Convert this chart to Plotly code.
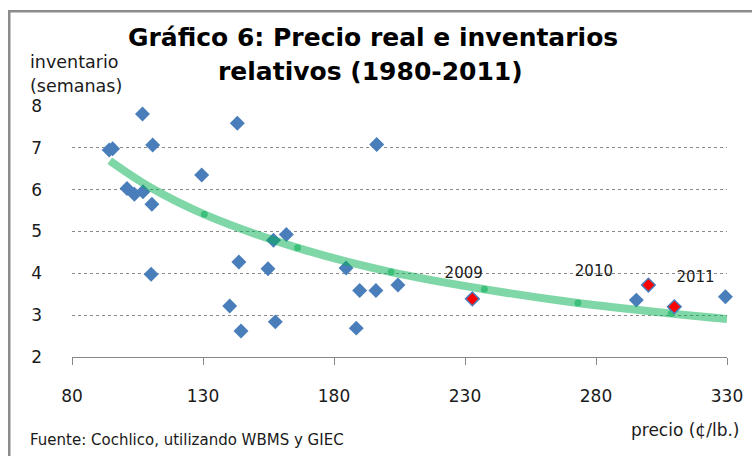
import plotly.graph_objects as go

# ---- data ----
blue_price = [94.2, 95.5, 106.9, 110.8, 129.5, 143.1, 101.0, 103.8, 107.1, 110.5, 110.2,
              143.7, 140.2, 144.5, 154.8, 157.6, 156.9, 161.8, 196.3, 184.6, 189.8, 188.5,
              196.0, 204.4, 295.4, 329.4]
blue_inv = [6.95, 6.98, 7.81, 7.07, 6.35, 7.59, 6.03, 5.89, 5.95, 5.65, 3.98,
            4.27, 3.22, 2.62, 4.11, 2.84, 4.79, 4.93, 7.08, 4.13, 3.59, 2.69,
            3.59, 3.72, 3.36, 3.44]

red_price = [232.8, 300.0, 309.9]
red_inv = [3.39, 3.72, 3.20]

year_labels = ["2009", "2010", "2011"]
label_price = [229.5, 279.2, 318.0]
label_inv = [3.98, 4.03, 3.89]

trend_price = [94.4, 110.0, 130.5, 166.1, 201.8, 237.4, 273.1, 308.7, 330.0]
trend_inv = [6.69, 6.05, 5.41, 4.61, 4.03, 3.62, 3.29, 3.04, 2.91]

dot_price = [130.5, 166.1, 201.8, 237.4, 273.1, 308.7]
dot_inv = [5.41, 4.61, 4.03, 3.62, 3.29, 3.04]

x_ticks = [80, 130, 180, 230, 280, 330]
y_ticks = [2, 3, 4, 5, 6, 7, 8]

FONT = "DejaVu Sans"
W, H = 752, 456
ML, MR, MT, MB = 72, 25, 106, 99
PW, PH = W - ML - MR, H - MT - MB


def px(x):
    return (x - ML) / PW


def py(y):
    return (H - MB - y) / PH


fig = go.Figure()
fig.add_trace(go.Scatter(x=blue_price, y=blue_inv, mode="markers",
                         marker=dict(symbol="diamond", size=11.5, color="#4a7ebb",
                                     line=dict(width=0)),
                         cliponaxis=False, showlegend=False))
fig.add_trace(go.Scatter(x=trend_price, y=trend_inv, mode="lines",
                         line=dict(color="rgba(0,176,80,0.5)", width=8, shape="spline"),
                         showlegend=False))
fig.add_trace(go.Scatter(x=dot_price, y=dot_inv, mode="markers",
                         marker=dict(symbol="circle", size=7, color="#3dc17a"),
                         showlegend=False))
fig.add_trace(go.Scatter(x=red_price, y=red_inv, mode="markers",
                         marker=dict(symbol="diamond", size=10.5, color="#ff0000",
                                     line=dict(width=1.5, color="#4a7ebb")),
                         showlegend=False))
fig.add_trace(go.Scatter(x=label_price, y=label_inv, mode="text", text=year_labels,
                         textposition="middle center",
                         textfont=dict(family=FONT, size=15, color="#1a1a1a"),
                         showlegend=False, cliponaxis=False))

fig.update_xaxes(range=[80, 330], tickvals=x_ticks, ticks="outside", ticklen=7,
                 tickcolor="#868686", showline=True, linecolor="#868686", linewidth=1,
                 showgrid=False, zeroline=False, ticklabelstandoff=17, automargin=False,
                 tickfont=dict(family=FONT, size=17, color="#1a1a1a"))
fig.update_yaxes(range=[2, 8], tickvals=y_ticks, showgrid=True, gridcolor="#8a8a8a",
                 griddash="dot", gridwidth=1, zeroline=False, showline=False,
                 ticks="", ticklabelstandoff=29, automargin=False,
                 tickfont=dict(family=FONT, size=17, color="#1a1a1a"))

ann = []
# frame (gray border cut off at right and bottom, as in the reference)
ann.append(dict(text=" ", x=px(8), y=py(10), xanchor="left", yanchor="top",
                width=900, height=600, borderpad=0, borderwidth=2.5,
                bordercolor="#8c8c8c", bgcolor="rgba(0,0,0,0)"))
ann.append(dict(text="<b>Gráfico 6: Precio real e inventarios</b>", x=px(373), y=py(37),
                xanchor="center", yanchor="middle",
                font=dict(family=FONT, size=25, color="#000000")))
ann.append(dict(text="<b>relativos (1980-2011)</b>", x=px(370), y=py(72),
                xanchor="center", yanchor="middle",
                font=dict(family=FONT, size=25, color="#000000")))
ann.append(dict(text="inventario", x=px(28), y=py(62), xanchor="left", yanchor="middle",
                font=dict(family=FONT, size=17.5, color="#1a1a1a")))
ann.append(dict(text="(semanas)", x=px(28), y=py(86), xanchor="left", yanchor="middle",
                font=dict(family=FONT, size=17.5, color="#1a1a1a")))
ann.append(dict(text="precio (¢/lb.)", x=px(741), y=py(430), xanchor="right", yanchor="middle",
                font=dict(family=FONT, size=17, color="#1a1a1a")))
ann.append(dict(text="Fuente: Cochlico, utilizando WBMS y GIEC", x=px(28), y=py(440),
                xanchor="left", yanchor="middle",
                font=dict(family=FONT, size=15, color="#1a1a1a")))
for a in ann:
    a.update(xref="paper", yref="paper", showarrow=False)

fig.update_layout(
    width=W, height=H,
    margin=dict(l=ML, r=MR, t=MT, b=MB, pad=0, autoexpand=False),
    paper_bgcolor="white", plot_bgcolor="white",
    annotations=ann,
)

fig.write_html("out.html", config={"displayModeBar": False},
               post_script="document.body.style.margin='0';document.body.style.padding='0';"
                           "document.body.style.overflow='hidden';")
